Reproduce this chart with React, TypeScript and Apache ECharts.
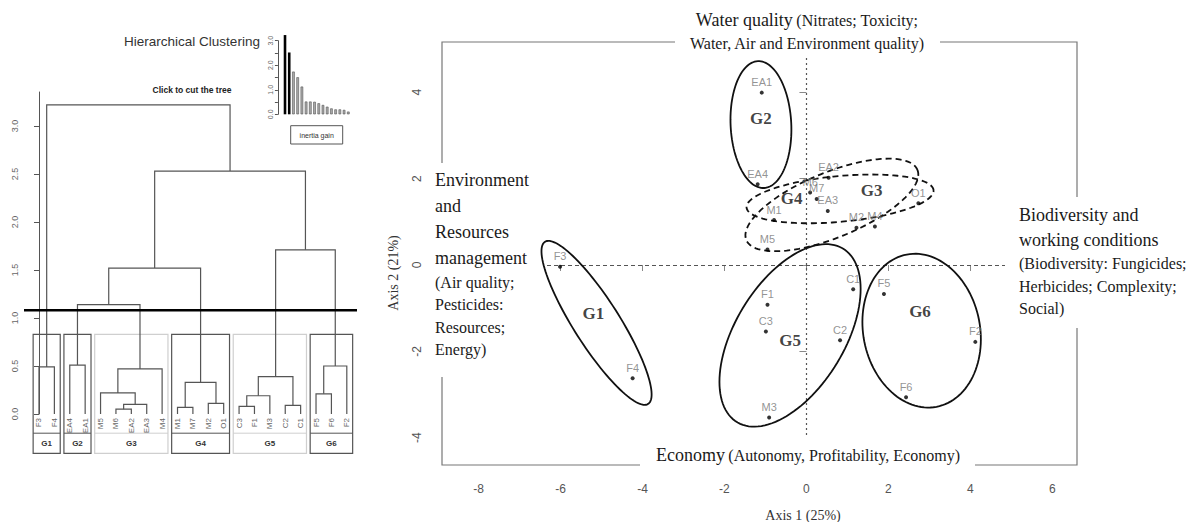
import React, { useEffect, useRef } from "react";
import * as echarts from "echarts";

// ---------- Dendrogram data ----------
const leaves = ["F3","F4","EA4","EA1","M5","M6","EA2","EA3","M4","M1","M7","M2","O1","C3","F1","M3","C2","C1","F5","F6","F2"];
// merges: [left, right, height]; strings = leaves, numbers = earlier merge index
const merges: [string | number, string | number, number][] = [
  ["F3", "F4", 0.49],
  ["EA4", "EA1", 0.51],
  ["M6", "EA2", 0.05],
  [2, "EA3", 0.10],
  ["M5", 3, 0.22],
  [4, "M4", 0.47],
  ["M1", "M7", 0.07],
  ["M2", "O1", 0.11],
  [6, 7, 0.33],
  ["C3", "F1", 0.08],
  [9, "M3", 0.19],
  ["C2", "C1", 0.09],
  [10, 11, 0.39],
  ["F5", "F6", 0.21],
  [13, "F2", 0.50],
  [1, 5, 1.14],
  [15, 8, 1.52],
  [12, 14, 1.71],
  [16, 17, 2.53],
  [0, 18, 3.22],
];
const cutHeight = 1.08;
const groupNames = ["G1", "G2", "G3", "G4", "G5", "G6"];
const groupFirstLeaf = [0, 2, 4, 9, 13, 18];
const groupLastLeaf = [1, 3, 8, 12, 17, 20];
const groupStrong = [1, 1, 0, 1, 0, 1];
const dendroTicks = [0, 0.5, 1, 1.5, 2, 2.5, 3];

// inset: inertia gain
const inertiaGain = [3.23, 2.52, 1.74, 1.51, 1.13, 0.52, 0.52, 0.51, 0.45, 0.38, 0.31, 0.24, 0.2, 0.2, 0.18, 0.11];
const inertiaHighlighted = 2;

// ---------- Factor map data ----------
const pointNames = ["EA1","EA4","EA2","M6","M7","EA3","M1","M5","M2","M4","O1","C1","F5","F1","C3","C2","F2","F4","F6","M3","F3"];
const pointX = [-1.09,-1.19,0.54,0.09,0.25,0.52,-0.79,-0.95,1.22,1.67,2.73,1.14,1.89,-0.95,-0.99,0.82,4.12,-4.24,2.43,-0.91,-6.01];
const pointY = [3.99,1.87,2.02,1.68,1.53,1.25,1.04,0.36,0.86,0.89,1.43,-0.56,-0.67,-0.92,-1.54,-1.74,-1.78,-2.62,-3.06,-3.53,-0.04];

const ellipseCx = [-5.12, -1.11, 0.62, 0.82, -0.40, 2.81];
const ellipseCy = [-1.34, 3.25, 1.39, 1.53, -1.63, -1.52];
const ellipseA = [2.26, 1.47, 2.24, 2.29, 2.39, 1.80];
const ellipseB = [0.55, 0.74, 0.76, 0.53, 1.31, 1.42];
const ellipseAngle = [-56, 93, 21, 5, 56, 104];
const ellipseDashed = [0, 0, 1, 1, 0, 0];

const clusterLabels = ["G1", "G2", "G3", "G4", "G5", "G6"];
const clusterLabelX = [-5.2, -1.11, 1.59, -0.36, -0.4, 2.77];
const clusterLabelY = [-1.12, 3.4, 1.72, 1.54, -1.74, -1.08];

const axis1Ticks = [-8, -6, -4, -2, 0, 2, 4, 6];
const axis2Ticks = [-4, -2, 0, 2, 4];

const SANS = "'Liberation Sans', Arial, sans-serif";
const SERIF = "'Liberation Serif', 'Times New Roman', serif";

function buildDendrogram() {
  const idx: Record<string, number> = {};
  leaves.forEach((n, i) => (idx[n] = i));
  const mx: number[] = [];
  const mh: number[] = [];
  const segs: number[][] = [];
  const pos = (n: string | number): [number, number] =>
    typeof n === "string" ? [idx[n], 0] : [mx[n], mh[n]];
  merges.forEach(([a, b, h]) => {
    const pa = pos(a);
    const pb = pos(b);
    mx.push((pa[0] + pb[0]) / 2);
    mh.push(h);
    segs.push([pa[0], pa[1], pb[0], pb[1], h]);
  });
  return segs;
}

export default function App() {
  const ref = useRef<HTMLDivElement>(null);
  useEffect(() => {
    if (!ref.current) return;
    const chart = echarts.init(ref.current, undefined, { renderer: "svg" });
    const segs = buildDendrogram();
    const textColor = "#1a1a1a";

    const option: any = {
      animation: false,
      backgroundColor: "#ffffff",
      grid: [
        { left: 26, top: 92, width: 328.5, height: 322, containLabel: false },
        { left: 282.9, top: 40.7, width: 67.5, height: 73.6, containLabel: false },
        { left: 442, top: 42, width: 635, height: 423, containLabel: false, show: true, borderColor: "#777", borderWidth: 1.2, backgroundColor: "transparent", z: 0 },
      ],
      xAxis: [
        { gridIndex: 0, type: "value", min: -0.844, max: 20.5, show: false },
        { gridIndex: 1, type: "category", data: inertiaGain.map((_, i) => String(i + 1)), show: false },
        {
          gridIndex: 2, type: "value", min: -8.89, max: 6.6,
          axisLine: { show: false }, splitLine: { show: false },
          axisTick: { show: true, length: 6, customValues: axis1Ticks, lineStyle: { color: "#888" } },
          axisLabel: { customValues: axis1Ticks, margin: 18, color: "#555", fontSize: 12, fontFamily: SANS },
        },
      ],
      yAxis: [
        {
          gridIndex: 0, type: "value", min: 0, max: 3.354,
          axisLine: { show: true, lineStyle: { color: "#555" } }, splitLine: { show: false },
          axisTick: { show: true, length: 5, customValues: dendroTicks, lineStyle: { color: "#555" } },
          axisLabel: { customValues: dendroTicks, rotate: 90, margin: 7, fontSize: 9, color: "#666", fontFamily: SANS, formatter: (v: number) => v.toFixed(1) },
        },
        {
          gridIndex: 1, type: "value", min: 0, max: 3, offset: 5,
          axisLine: { show: true, lineStyle: { color: "#555" } }, splitLine: { show: false },
          axisTick: { show: true, length: 3, customValues: [0, 0.5, 1, 1.5, 2, 2.5, 3], lineStyle: { color: "#555" } },
          axisLabel: { customValues: [0, 1, 2, 3], rotate: 90, margin: 4, fontSize: 7, color: "#666", fontFamily: SANS, formatter: (v: number) => v.toFixed(1) },
        },
        {
          gridIndex: 2, type: "value", min: -4.63, max: 5.162,
          axisLine: { show: false }, splitLine: { show: false },
          axisTick: { show: true, length: 7, customValues: axis2Ticks, lineStyle: { color: "#888" } },
          axisLabel: { customValues: axis2Ticks, rotate: 90, margin: 19, color: "#555", fontSize: 12, fontFamily: SANS },
        },
      ],
      series: [
        // dendrogram links
        {
          type: "custom", xAxisIndex: 0, yAxisIndex: 0, clip: false, z: 3,
          data: segs,
          renderItem: (_p: any, api: any) => {
            const xa = api.value(0), ha = api.value(1), xb = api.value(2), hb = api.value(3), h = api.value(4);
            return {
              type: "polyline",
              shape: { points: [api.coord([xa, ha]), api.coord([xa, h]), api.coord([xb, h]), api.coord([xb, hb])] },
              style: { stroke: "#555", fill: "none", lineWidth: 1.2 },
            };
          },
        },
        // group boxes
        {
          type: "custom", xAxisIndex: 0, yAxisIndex: 0, clip: false, z: 2,
          data: groupNames.map((_, i) => [groupFirstLeaf[i], groupLastLeaf[i], groupStrong[i]]),
          renderItem: (p: any, api: any) => {
            const f = api.value(0), t = api.value(1), strong = api.value(2);
            const p1 = api.coord([f - 0.38, 0.83]);
            const p2 = api.coord([t + 0.38, -0.41]);
            const pd = api.coord([f, -0.2]);
            const pl = api.coord([(f + t) / 2, -0.305]);
            const col = strong ? "#555" : "#cfcfcf";
            return {
              type: "group",
              children: [
                { type: "rect", shape: { x: p1[0], y: p1[1], width: p2[0] - p1[0], height: p2[1] - p1[1] }, style: { stroke: col, fill: "none", lineWidth: 1.2 } },
                { type: "line", shape: { x1: p1[0], y1: pd[1], x2: p2[0], y2: pd[1] }, style: { stroke: col, lineWidth: 1 } },
                { type: "text", x: pl[0], y: pl[1], style: { text: groupNames[p.dataIndex], align: "center", verticalAlign: "middle", fontSize: 8, fontWeight: "bold", fill: "#333", fontFamily: SANS } },
              ],
            };
          },
        },
        // leaf labels
        {
          type: "custom", xAxisIndex: 0, yAxisIndex: 0, clip: false, z: 3,
          data: leaves.map((_, i) => [i, 0]),
          renderItem: (p: any, api: any) => {
            const c = api.coord([api.value(0), api.value(1)]);
            return {
              type: "text", x: c[0], y: c[1] + 4, rotation: Math.PI / 2,
              style: { text: leaves[p.dataIndex], align: "right", verticalAlign: "middle", fontSize: 8, fill: "#666", fontFamily: SANS },
            };
          },
        },
        // cut line
        {
          type: "line", xAxisIndex: 0, yAxisIndex: 0, z: 4, symbol: "none", silent: true,
          data: [[-1.23, cutHeight], [20.7, cutHeight]],
          lineStyle: { color: "#000", width: 2.6 },
        },
        // inertia gain bars
        {
          type: "bar", xAxisIndex: 1, yAxisIndex: 1, barWidth: 2.6, clip: false,
          data: inertiaGain.map((v, i) => ({
            value: v,
            itemStyle: i < inertiaHighlighted ? { color: "#000" } : { color: "#aaa", borderColor: "#555", borderWidth: 0.6 },
          })),
        },
        // reference lines
        {
          type: "line", xAxisIndex: 2, yAxisIndex: 2, z: 1, data: [], symbol: "none",
          markLine: {
            silent: true, symbol: "none", label: { show: false }, z: 1,
            data: [
              { xAxis: 0, lineStyle: { type: [2, 3], color: "#555", width: 1.2 } },
              { yAxis: 0, lineStyle: { type: [4, 3], color: "#555", width: 1 } },
            ],
          },
        },
        // ellipses
        {
          type: "custom", xAxisIndex: 2, yAxisIndex: 2, clip: false, z: 3,
          data: ellipseCx.map((_, i) => [ellipseCx[i], ellipseCy[i], ellipseA[i], ellipseB[i], ellipseAngle[i], ellipseDashed[i]]),
          renderItem: (_p: any, api: any) => {
            const cx = api.value(0), cy = api.value(1), a = api.value(2), b = api.value(3);
            const ang = (api.value(4) * Math.PI) / 180;
            const dashed = api.value(5);
            const pts: number[][] = [];
            for (let k = 0; k <= 120; k++) {
              const t = (k / 120) * 2 * Math.PI;
              const ex = a * Math.cos(t), ey = b * Math.sin(t);
              pts.push(api.coord([cx + ex * Math.cos(ang) - ey * Math.sin(ang), cy + ex * Math.sin(ang) + ey * Math.cos(ang)]));
            }
            return {
              type: "polyline", shape: { points: pts },
              style: { stroke: "#111", fill: "none", lineWidth: 1.8, lineDash: dashed ? [6, 4] : null },
            };
          },
        },
        // points
        {
          type: "scatter", xAxisIndex: 2, yAxisIndex: 2, z: 4, symbolSize: 4,
          itemStyle: { color: "#000" },
          data: pointNames.map((n, i) => ({ name: n, value: [pointX[i], pointY[i]] })),
          label: { show: true, position: "top", distance: 3, formatter: "{b}", color: "#777", fontSize: 11, fontFamily: SANS },
        },
        // cluster labels
        {
          type: "scatter", xAxisIndex: 2, yAxisIndex: 2, z: 4, symbolSize: 0, silent: true,
          data: clusterLabels.map((n, i) => ({ name: n, value: [clusterLabelX[i], clusterLabelY[i]] })),
          label: { show: true, position: "inside", formatter: "{b}", color: "#111", fontSize: 17, fontWeight: "bold", fontFamily: SERIF },
        },
      ],
      graphic: [
        // white boxes behind annotations
        { type: "rect", z: 2, shape: { x: 675, y: 0, width: 265, height: 57 }, style: { fill: "#fff" } },
        { type: "rect", z: 2, shape: { x: 432, y: 163, width: 113, height: 214 }, style: { fill: "#fff" } },
        { type: "rect", z: 2, shape: { x: 1005, y: 197, width: 181, height: 131 }, style: { fill: "#fff" } },
        { type: "rect", z: 2, shape: { x: 640, y: 437, width: 335, height: 32 }, style: { fill: "#fff" } },
        // annotation texts
        {
          type: "text", z: 5, x: 807, y: 8,
          style: {
            text: "{b|Water quality} {s|(Nitrates; Toxicity;}\n{s|Water, Air and Environment quality)}",
            align: "center", verticalAlign: "top", fill: textColor,
            rich: { b: { fontSize: 18, lineHeight: 24, fontFamily: SERIF, fill: textColor }, s: { fontSize: 16, lineHeight: 22, fontFamily: SERIF, fill: textColor } },
          },
        },
        {
          type: "text", z: 5, x: 435, y: 167,
          style: {
            text: "{b|Environment}\n{b|and}\n{b|Resources}\n{b|management}\n{s|(Air quality;}\n{s|Pesticides:}\n{s|Resources;}\n{s|Energy)}",
            align: "left", verticalAlign: "top", fill: textColor,
            rich: { b: { fontSize: 18, lineHeight: 26, fontFamily: SERIF, fill: textColor }, s: { fontSize: 16, lineHeight: 22.5, fontFamily: SERIF, fill: textColor } },
          },
        },
        {
          type: "text", z: 5, x: 1019, y: 202.5,
          style: {
            text: "{b|Biodiversity and}\n{b|working conditions}\n{s|(Biodiversity: Fungicides;}\n{s|Herbicides; Complexity;}\n{s|Social)}",
            align: "left", verticalAlign: "top", fill: textColor,
            rich: { b: { fontSize: 18, lineHeight: 25, fontFamily: SERIF, fill: textColor }, s: { fontSize: 16, lineHeight: 22.5, fontFamily: SERIF, fill: textColor } },
          },
        },
        {
          type: "text", z: 5, x: 808, y: 455,
          style: {
            text: "{b|Economy} {s|(Autonomy, Profitability, Economy)}",
            align: "center", verticalAlign: "middle", fill: textColor,
            rich: { b: { fontSize: 18, fontFamily: SERIF, fill: textColor }, s: { fontSize: 16, fontFamily: SERIF, fill: textColor } },
          },
        },
        { type: "text", z: 5, x: 803, y: 515, style: { text: "Axis 1 (25%)", align: "center", verticalAlign: "middle", fontSize: 14, fontFamily: SERIF, fill: "#333" } },
        { type: "text", z: 5, x: 393, y: 273, rotation: Math.PI / 2, style: { text: "Axis 2 (21%)", align: "center", verticalAlign: "middle", fontSize: 14, fontFamily: SERIF, fill: "#333" } },
        // left panel titles
        { type: "text", z: 5, x: 192, y: 41, style: { text: "Hierarchical Clustering", align: "center", verticalAlign: "middle", fontSize: 13.5, fontFamily: SANS, fill: "#333" } },
        { type: "text", z: 5, x: 192, y: 90, style: { text: "Click to cut the tree", align: "center", verticalAlign: "middle", fontSize: 8.5, fontWeight: "bold", fontFamily: SANS, fill: "#222" } },
        { type: "rect", z: 5, shape: { x: 290.7, y: 125.7, width: 52, height: 18.3 }, style: { fill: "#fff", stroke: "#555", lineWidth: 1 } },
        { type: "text", z: 6, x: 316.7, y: 135, style: { text: "inertia gain", align: "center", verticalAlign: "middle", fontSize: 7, fontFamily: SANS, fill: "#333" } },
      ],
    };
    chart.setOption(option);
    return () => chart.dispose();
  }, []);
  return <div ref={ref} style={{ position: "fixed", left: 0, top: 0, width: 1186, height: 522 }} />;
}
